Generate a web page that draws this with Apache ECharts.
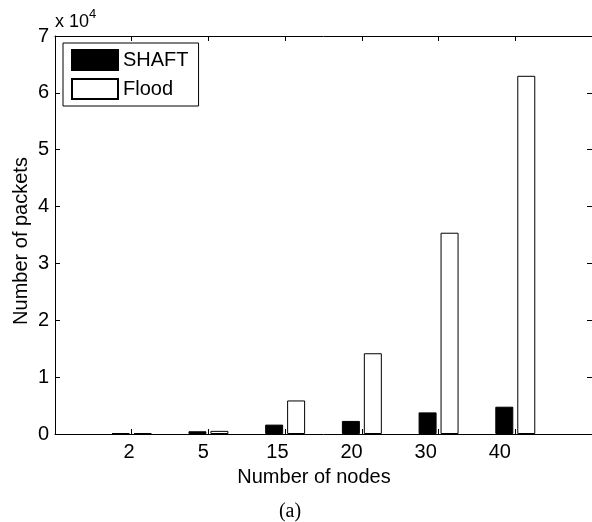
<!DOCTYPE html>
<html>
<head>
<meta charset="utf-8">
<script src="https://cdn.jsdelivr.net/npm/echarts@6/dist/echarts.min.js"></script>
<style>
  html, body { margin: 0; padding: 0; background: #fff; }
  #chart { width: 592px; height: 522px; }
</style>
</head>
<body>
<div id="chart"></div>
<script>
// Data
const nodeLabels = ['2', '5', '15', '20', '30', '40'];
const shaftValues = [150, 480, 1650, 2300, 3800, 4800];
const floodValues = [150, 550, 5900, 14200, 35400, 63000];
const yTickLabels = ['0', '1', '2', '3', '4', '5', '6', '7'];

const FONT = 'Liberation Sans';
const chart = echarts.init(document.getElementById('chart'), null, { renderer: 'canvas' });

const toPairs = arr => arr.map((v, i) => [i + 1, v]);

const axisLineStyle = { show: true, onZero: false, lineStyle: { color: '#000', width: 1 } };
const innerTick = { show: true, inside: true, length: 5, lineStyle: { color: '#000', width: 1 } };

chart.setOption({
  animation: false,
  backgroundColor: '#fff',
  grid: [
    { left: 55, right: -1, top: 36, bottom: 88, containLabel: false },
    // label-only grid (tick labels in the reference sit slightly tighter than the ticks)
    { left: 55, width: 519, top: 36, bottom: 88, containLabel: false }
  ],
  legend: {
    orient: 'vertical',
    left: 63,
    top: 43,
    icon: 'rect',
    itemWidth: 46,
    itemHeight: 20,
    itemGap: 7,
    padding: [6, 10, 6, 8],
    borderColor: '#000',
    borderWidth: 1,
    backgroundColor: '#fff',
    textStyle: { fontFamily: FONT, fontSize: 20, color: '#000', lineHeight: 20 },
    data: ['SHAFT', 'Flood']
  },
  xAxis: [
    {
      type: 'value', gridIndex: 0, position: 'bottom', min: 0, max: 7, interval: 1,
      axisLine: axisLineStyle, axisTick: innerTick,
      axisLabel: { show: false }, splitLine: { show: false }
    },
    {
      type: 'value', gridIndex: 0, position: 'top', min: 0, max: 7, interval: 1,
      axisLine: axisLineStyle, axisTick: innerTick,
      axisLabel: { show: false }, splitLine: { show: false }
    },
    {
      type: 'value', gridIndex: 1, position: 'bottom', min: 0, max: 7, interval: 1,
      axisLine: { show: false, onZero: false }, axisTick: { show: false }, splitLine: { show: false },
      axisLabel: {
        show: true, margin: 8, color: '#000', fontFamily: FONT, fontSize: 20,
        formatter: v => (Number.isInteger(v) && nodeLabels[v - 1]) ? nodeLabels[v - 1] : ''
      }
    }
  ],
  yAxis: [
    {
      type: 'value', gridIndex: 0, position: 'left', min: 0, max: 70000, interval: 10000,
      axisLine: axisLineStyle, axisTick: innerTick, splitLine: { show: false },
      axisLabel: {
        show: true, margin: 6, color: '#000', fontFamily: FONT, fontSize: 20,
        formatter: v => yTickLabels[Math.round(v / 10000)] ?? ''
      }
    },
    {
      type: 'value', gridIndex: 0, position: 'right', min: 0, max: 70000, interval: 10000,
      axisLine: axisLineStyle, axisTick: innerTick, splitLine: { show: false },
      axisLabel: { show: false }
    },
    {
      type: 'value', gridIndex: 1, min: 0, max: 70000, show: false,
      axisLine: { onZero: false }
    }
  ],
  series: [
    {
      name: 'SHAFT', type: 'bar', xAxisIndex: 0, yAxisIndex: 0,
      barWidth: 18, barGap: '22%',
      itemStyle: { color: '#000', borderColor: '#000', borderWidth: 1 },
      data: toPairs(shaftValues)
    },
    {
      name: 'Flood', type: 'bar', xAxisIndex: 0, yAxisIndex: 0,
      barWidth: 18, barGap: '22%',
      itemStyle: { color: '#fff', borderColor: '#000', borderWidth: 1 },
      data: toPairs(floodValues)
    }
  ],
  graphic: [
    {
      type: 'text', left: 55, top: 13,
      style: { text: 'x 10', fontFamily: FONT, fontSize: 18, fill: '#000' }
    },
    {
      type: 'text', left: 89, top: 8,
      style: { text: '4', fontFamily: FONT, fontSize: 13, fill: '#000' }
    },
    {
      type: 'text', x: 21, y: 241, rotation: Math.PI / 2,
      style: { text: 'Number of packets', fontFamily: FONT, fontSize: 20, fill: '#000',
               align: 'center', verticalAlign: 'middle' }
    },
    {
      type: 'text', x: 314, y: 477,
      style: { text: 'Number of nodes', fontFamily: FONT, fontSize: 20, fill: '#000',
               align: 'center', verticalAlign: 'middle' }
    },
    {
      type: 'text', x: 290, y: 512,
      style: { text: '(a)', fontFamily: 'Liberation Serif', fontSize: 20, fill: '#000',
               align: 'center', verticalAlign: 'middle' }
    }
  ]
});
</script>
</body>
</html>
